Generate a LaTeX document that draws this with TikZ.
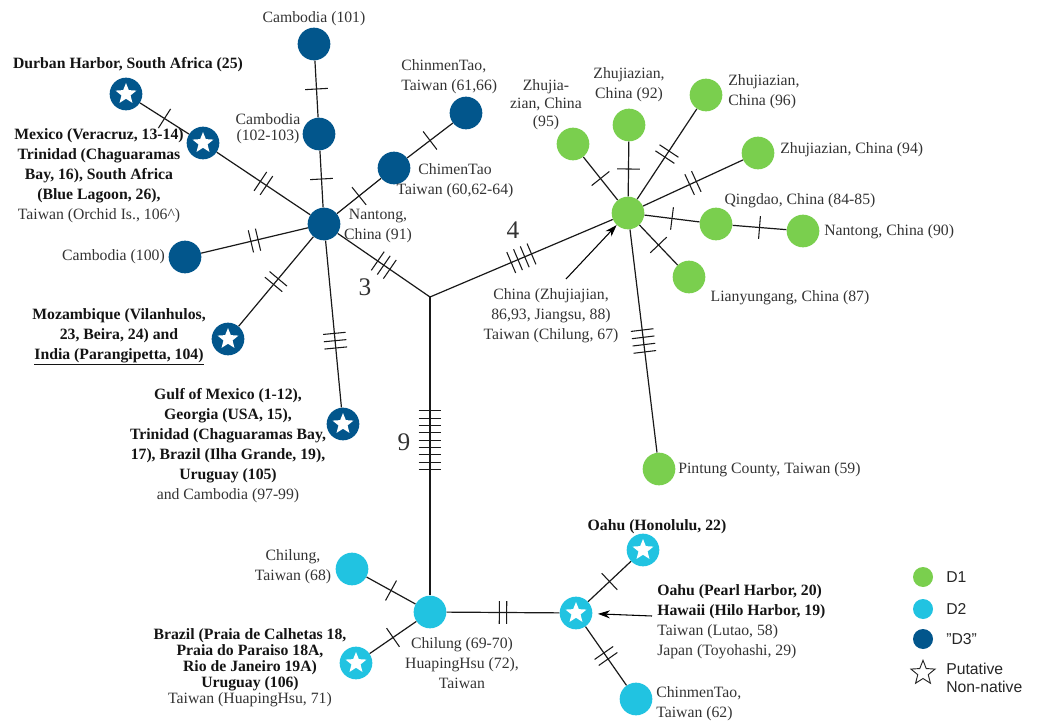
\documentclass[tikz,border=0pt]{standalone}
\usepackage{fontspec}
\setmainfont{Liberation Serif}
\setsansfont{Liberation Sans}
\usetikzlibrary{shapes.geometric,decorations.markings,arrows.meta}

\definecolor{dgreen}{RGB}{122,207,78}
\definecolor{dcyan}{RGB}{33,195,225}
\definecolor{dnavy}{RGB}{2,86,140}

\newcommand{\rgl}[1]{{\mdseries\color{black!80}#1}}

\tikzset{
  hap/.style={circle,minimum size=24.5pt,inner sep=0pt},
  nn/.style={path picture={\node[star,star points=5,star point ratio=2.3,fill=white,draw=none,inner sep=0pt,minimum size=16.5pt] at (path picture bounding box.center) {};}},
  mutsat/.style 2 args={postaction={decorate,decoration={markings,mark=at position #2 with {\foreach \k in {1,...,#1}{\draw[line width=0.8pt] ({(\k-(#1+1)/2)*5.5pt},-8.5pt) -- ({(\k-(#1+1)/2)*5.5pt},8.5pt);}}}}},
  muts/.style={mutsat={#1}{0.5}},
  lbl/.style={font=\fontsize{11.8}{15}\selectfont,text=black!80,align=center,inner sep=0pt},
  blbl/.style={lbl,font=\fontsize{11.8}{15}\selectfont\bfseries,text=black!92},
  lgd/.style={font=\sffamily\fontsize{11.8}{13.5}\selectfont,text=black!85,inner sep=0pt,anchor=west,align=left},
  numlbl/.style={font=\fontsize{19}{19}\selectfont,text=black!80,inner sep=0pt}
}

\begin{document}
\begin{tikzpicture}[x=0.75pt,y=-0.75pt]
\useasboundingbox (0,0) rectangle (1042,723);

  % D3
  \begin{scope}[every node/.style={hap,fill=dnavy}]
    \node (nt91)  at (324,224) {};
    \node (cb101) at (314,44)  {};
    \node (cb102) at (319,134) {};
    \node (cm61)  at (466,113) {};
    \node (cm60)  at (394,168) {};
    \node[nn] (du25) at (126,94)  {};
    \node[nn] (mx13) at (203,143) {};
    \node (cb100) at (185,257) {};
    \node[nn] (mz23) at (228,339) {};
    \node[nn] (gm1)  at (343,424) {};
  \end{scope}

  % D1
  \begin{scope}[every node/.style={hap,fill=dgreen}]
    \node (g0)  at (628,213) {};
    \node (g95) at (573,144) {};
    \node (g92) at (629,125) {};
    \node (g96) at (706,95)  {};
    \node (g94) at (758,153) {};
    \node (g84) at (716,224) {};
    \node (g90) at (803,231) {};
    \node (g87) at (689,277) {};
    \node (g59) at (659,469) {};
  \end{scope}

  % D2
  \begin{scope}[every node/.style={hap,fill=dcyan}]
    \node (c0)  at (430,612) {};
    \node (c68) at (352,569) {};
    \node[nn] (c18) at (356,663) {};
    \node[nn] (s20) at (576,613) {};
    \node[nn] (s22) at (643,550) {};
    \node (c62) at (636,699) {};
  \end{scope}

  \coordinate (jn) at (430,297);

  \begin{scope}[every edge/.style={draw,line width=0.9pt,black!90}]
    \path (cb101) edge[muts=1] (cb102);
    \path (cb102) edge[muts=1] (nt91);
    \path (cm61)  edge[muts=1] (cm60);
    \path (cm60)  edge[muts=1] (nt91);
    \path (du25)  edge[muts=1] (mx13);
    \path (mx13)  edge[muts=2] (nt91);
    \path (cb100) edge[muts=2] (nt91);
    \path (mz23)  edge[muts=2] (nt91);
    \path (nt91)  edge[mutsat={3}{0.6}] (gm1);
    \path (nt91)  edge[muts=3] (jn);
    \path (jn)    edge[muts=4] (g0);
    \path (jn)    edge[mutsat={9}{0.48}] (c0);
    \path (g0) edge[muts=1] (g95);
    \path (g0) edge[muts=1] (g92);
    \path (g0) edge[muts=2] (g96);
    \path (g0) edge[muts=2] (g94);
    \path (g0) edge[muts=1] (g84);
    \path (g84) edge[muts=1] (g90);
    \path (g0) edge[muts=1] (g87);
    \path (g0) edge[muts=4] (g59);
    \path (c0) edge[muts=1] (c68);
    \path (c0) edge[muts=1] (c18);
    \path (c0) edge[muts=2] (s20);
    \path (s20) edge[muts=1] (s22);
    \path (s20) edge[muts=2] (c62);
  \end{scope}

  \node[numlbl] (n3) at (365,287) {3};
  \node[numlbl] (n4) at (513,230) {4};
  \node[numlbl] (n9) at (404,442) {9};

  % arrows
  \coordinate (ar1) at (566,279);
  \coordinate (ar2) at (652,616);
  \draw[-{Stealth[length=9pt,width=6pt]},line width=0.8pt] (ar1) -- (g0);
  \draw[-{Stealth[length=9pt,width=6pt]},line width=0.8pt,shorten >=4pt] (ar2) -- (s20);

  % labels
  \node[lbl] (t101) at (314,19) {Cambodia (101)};
  \node[lbl,font=\fontsize{11.8}{12}\selectfont] (t102) at (268,129) {Cambodia\\(102-103)};
  \node[blbl] (t25) at (128,65) {Durban Harbor, South Africa (25)};
  \node[blbl] (t13) at (99,176) {Mexico (Veracruz, 13-14)\\Trinidad (Chaguaramas\\Bay, 16), South Africa\\(Blue Lagoon, 26),\\\rgl{Taiwan (Orchid Is., 106\textasciicircum)}};
  \node[lbl,anchor=east] (t100) at (165,257) {Cambodia (100)};
  \node[blbl] (t23) at (119,337) {Mozambique (Vilanhulos,\\23, Beira, 24) and\\\underline{India (Parangipetta, 104)}};
  \node[blbl] (t1) at (228,446) {Gulf of Mexico (1-12),\\Georgia (USA, 15),\\Trinidad (Chaguaramas Bay,\\17), Brazil (Ilha Grande, 19),\\Uruguay (105)\\\rgl{and Cambodia (97-99)}};
  \node[lbl] (t91) at (378,226) {Nantong,\\China (91)};
  \node[lbl,align=left,anchor=west] (t61) at (401,77) {ChinmenTao,\\Taiwan (61,66)};
  \node[lbl] (t60) at (455,181) {ChimenTao\\Taiwan (60,62-64)};
  \node[lbl,font=\fontsize{11.8}{13.5}\selectfont] (t95) at (546,105) {Zhujia-\\zian, China\\(95)};
  \node[lbl] (t92) at (629,85) {Zhujiazian,\\China (92)};
  \node[lbl,align=left,anchor=west] (t96) at (728,92) {Zhujiazian,\\China (96)};
  \node[lbl,anchor=west] (t94) at (780,150) {Zhujiazian, China (94)};
  \node[lbl] (t84) at (800,201) {Qingdao, China (84-85)};
  \node[lbl,anchor=west] (t90) at (824,232) {Nantong, China (90)};
  \node[lbl] (t87) at (790,298) {Lianyungang, China (87)};
  \node[lbl] (t86) at (551,316) {China (Zhujiajian,\\86,93, Jiangsu, 88)\\Taiwan (Chilung, 67)};
  \node[lbl,anchor=west] (t59) at (678,470) {Pintung County, Taiwan (59)};
  \node[lbl] (t68) at (293,567) {Chilung,\\Taiwan (68)};
  \node[blbl,font=\fontsize{11.8}{12}\selectfont\bfseries] (t18) at (250,668) {Brazil (Praia de Calhetas 18,\\Praia do Paraiso 18A,\\Rio de Janeiro 19A)\\Uruguay (106)\\\rgl{Taiwan (HuapingHsu, 71)}};
  \node[lbl] (t69) at (462,663) {Chilung (69-70)\\HuapingHsu (72),\\Taiwan};
  \node[blbl] (t22) at (657,527) {Oahu (Honolulu, 22)};
  \node[blbl,align=left,anchor=west] (t20) at (657,622) {Oahu (Pearl Harbor, 20)\\Hawaii (Hilo Harbor, 19)\\\rgl{Taiwan (Lutao, 58)}\\\rgl{Japan (Toyohashi, 29)}};
  \node[lbl,align=left,anchor=west] (t62) at (656,704) {ChinmenTao,\\Taiwan (62)};

  % legend
  \node[hap,fill=dgreen,minimum size=15pt] (lg1) at (923,577) {};
  \node[hap,fill=dcyan,minimum size=15pt]  (lg2) at (923,609) {};
  \node[hap,fill=dnavy,minimum size=15pt]  (lg3) at (923,639) {};
  \node[star,star points=5,star point ratio=2.3,draw=black!85,line width=0.7pt,minimum size=19pt,inner sep=0pt] (lg4) at (923,673) {};
  \node[lgd] (lt1) at (946,577) {D1};
  \node[lgd] (lt2) at (946,609) {D2};
  \node[lgd] (lt3) at (946,639) {\symbol{34}D3\symbol{34}};
  \node[lgd] (lt4) at (946,678) {Putative\\Non-native};

\end{tikzpicture}
\end{document}
